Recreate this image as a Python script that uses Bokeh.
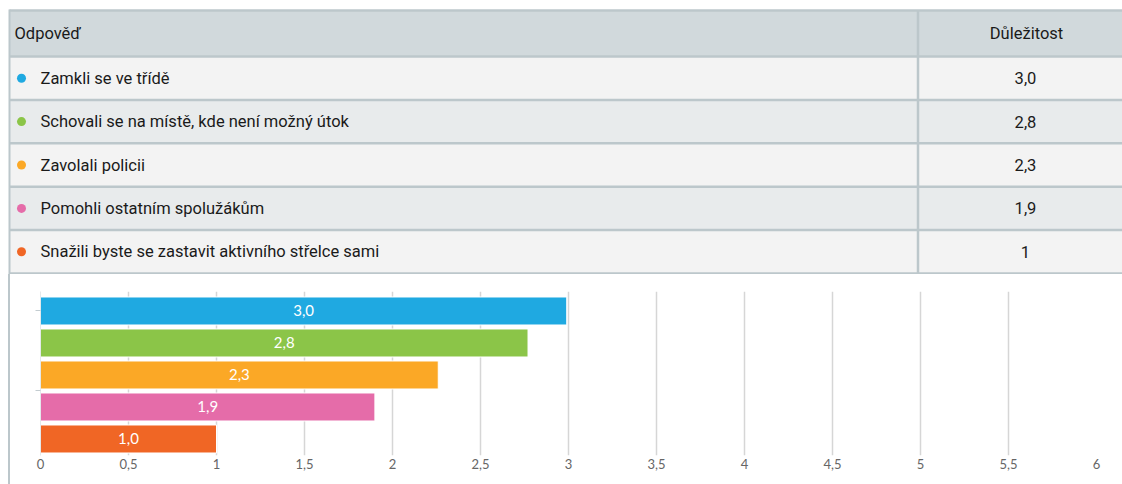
from bokeh.plotting import figure
from bokeh.models import Range1d, FixedTicker, Div, ColumnDataSource
from bokeh.layouts import column, row
from bokeh.embed import file_html
from bokeh.resources import INLINE
from bokeh.core.properties import value

# ---------------- data ----------------
header_answer = "Odpověď"
header_value = "Důležitost"
categories = [
    "Zamkli se ve třídě",
    "Schovali se na místě, kde není možný útok",
    "Zavolali policii",
    "Pomohli ostatním spolužákům",
    "Snažili byste se zastavit aktivního střelce sami",
]
importance = [2.99, 2.77, 2.26, 1.90, 1.0]
colors = ["#1fa9e1", "#8bc548", "#fba826", "#e56ca9", "#f06625"]
x_ticks = [0, 0.5, 1, 1.5, 2, 2.5, 3, 3.5, 4, 4.5, 5, 5.5, 6]
x_tick_labels = ["0", "0,5", "1", "1,5", "2", "2,5", "3", "3,5", "4", "4,5", "5", "5,5", "6"]


def fmt_table(v):
    return str(int(v)) if float(v).is_integer() else f"{v:.1f}".replace(".", ",")


def fmt_bar(v):
    return f"{v:.1f}".replace(".", ",")


# ---------------- styles ----------------
TABLE_FONT = value("Roboto")
TICK_FONT = value("Lato")
BORDER = "#bcc7cb"
HEADER_BG = "#d1d9dc"
ROW_BG = ["#f3f3f3", "#e8ebec"]
TEXT = "#1a1a1a"
FS = "16.5px"

W_TOTAL = 1122
T_H = 274
C_H = 210

# ---------------- table ----------------
tp = figure(width=W_TOTAL, height=T_H, x_range=Range1d(0, 1122), y_range=Range1d(274, 0),
            toolbar_location=None, output_backend="svg", min_border=0,
            x_axis_type=None, y_axis_type=None, outline_line_color=None)
tp.grid.visible = False

HEAD_TOP, HEAD_BOT, ROW_H = 10, 56, 43.4
COL_X = 917.5
n = len(categories)
row_tops = [HEAD_BOT + i * ROW_H for i in range(n)]
row_bots = [HEAD_BOT + (i + 1) * ROW_H for i in range(n)]
row_mid = [(a + b) / 2 for a, b in zip(row_tops, row_bots)]

tp.quad(left=9, right=1122, top=HEAD_TOP, bottom=HEAD_BOT, fill_color=HEADER_BG, line_color=None)
tp.quad(left=9, right=1122, top=row_tops, bottom=row_bots,
        fill_color=[ROW_BG[i % 2] for i in range(n)], line_color=None)

hlines = [HEAD_TOP, HEAD_BOT] + row_bots
tp.segment(x0=9, x1=1122, y0=hlines, y1=hlines, line_color=BORDER, line_width=2.5)
tp.segment(x0=COL_X, x1=COL_X, y0=HEAD_TOP, y1=row_bots[-1], line_color=BORDER, line_width=2.5)
tp.segment(x0=9, x1=9, y0=HEAD_TOP - 1, y1=274, line_color=BORDER, line_width=2)

tp.text(x=[14], y=[(HEAD_TOP + HEAD_BOT) / 2], text=[header_answer], text_font=TABLE_FONT,
        text_font_size=FS, text_color=TEXT, text_align="left", text_baseline="middle")
tp.text(x=[1026], y=[(HEAD_TOP + HEAD_BOT) / 2], text=[header_value], text_font=TABLE_FONT,
        text_font_size=FS, text_color=TEXT, text_align="center", text_baseline="middle")

tsrc = ColumnDataSource(dict(y=row_mid, cat=categories, val=[fmt_table(v) for v in importance], c=colors))
tp.scatter(x=21, y="y", size=9, fill_color="c", line_color=None, source=tsrc)
tp.text(x=40, y="y", text="cat", text_font=TABLE_FONT, text_font_size=FS, text_color=TEXT,
        text_align="left", text_baseline="middle", source=tsrc)
tp.text(x=1025, y="y", text="val", text_font=TABLE_FONT, text_font_size=FS, text_color=TEXT,
        text_align="center", text_baseline="middle", source=tsrc)

# ---------------- bar chart ----------------
cp = figure(width=W_TOTAL - 10, height=C_H, x_range=Range1d(0, 6), y_range=Range1d(4.516, -0.609),
            toolbar_location=None, output_backend="svg",
            min_border_left=30, min_border_right=26, min_border_top=17, min_border_bottom=29,
            outline_line_color=None)

idx = list(range(n))
csrc = ColumnDataSource(dict(y=idx, v=importance, mid=[v / 2 for v in importance],
                             lab=[fmt_bar(v) for v in importance], c=colors))

cp.xgrid.ticker = FixedTicker(ticks=x_ticks)
cp.xgrid.grid_line_color = "#d6d6d6"
cp.xgrid.grid_line_width = 1.5
cp.ygrid.visible = False

cp.hbar(y="y", left=0, right="v", height=0.875, fill_color="c", line_color="white", line_width=1, source=csrc)
cp.text(x="mid", y="y", text="lab", text_color="white", text_align="center", text_baseline="middle",
        text_font=TICK_FONT, text_font_size="15px", source=csrc)

xa = cp.xaxis[0]
xa.ticker = FixedTicker(ticks=x_ticks)
xa.major_label_overrides = {t: l for t, l in zip(x_ticks, x_tick_labels)}
xa.axis_line_color = None
xa.major_tick_line_color = None
xa.minor_tick_line_color = None
xa.major_tick_out = 0
xa.major_tick_in = 0
xa.major_label_standoff = 3
xa.major_label_text_font = "Lato"
xa.major_label_text_font_size = "13px"
xa.major_label_text_color = "#666666"

ya = cp.yaxis[0]
ya.ticker = FixedTicker(ticks=[0, 2.5])
ya.major_label_overrides = {0: "", 2.5: ""}
ya.axis_line_color = "#e4e9eb"
ya.major_tick_line_color = "#c3ccd0"
ya.major_tick_out = 5
ya.major_tick_in = 0
ya.minor_tick_line_color = None
ya.major_label_standoff = 0

left_gap = Div(text="", width=8, height=C_H, margin=0)
left_border = Div(text="", width=2, height=C_H, margin=0, styles={"background-color": BORDER})

layout = column(tp, row(left_gap, left_border, cp, spacing=0), spacing=0)

open("out.html", "w").write(file_html(layout, INLINE))
